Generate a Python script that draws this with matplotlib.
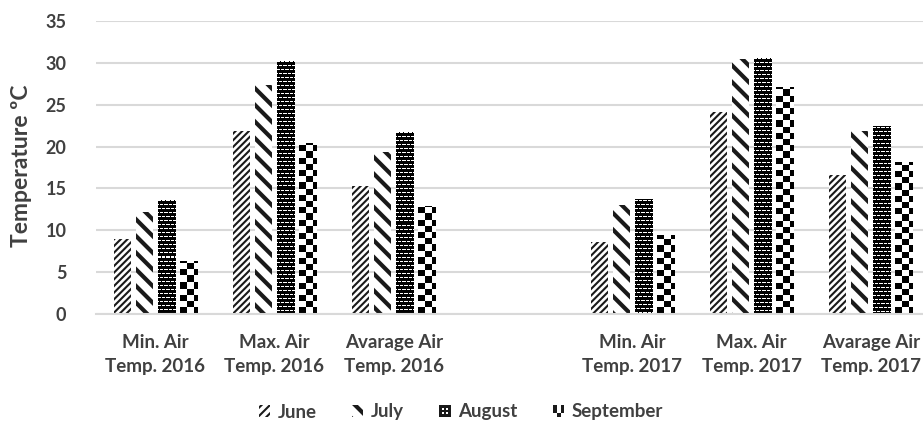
import numpy as np
import matplotlib
matplotlib.use("Agg")
import matplotlib.pyplot as plt
from matplotlib.patches import Rectangle
from matplotlib.legend_handler import HandlerBase

categories = ["Min. Air\nTemp. 2016", "Max. Air\nTemp. 2016", "Avarage Air\nTemp. 2016", "",
              "Min. Air\nTemp. 2017", "Max. Air\nTemp. 2017", "Avarage Air\nTemp. 2017"]
series = ["June", "July", "August", "September"]
june = [9.0, 21.8, 15.3, np.nan, 8.6, 24.1, 16.6]
july = [12.2, 27.3, 19.3, np.nan, 13.0, 30.4, 21.9]
august = [13.6, 30.2, 21.7, np.nan, 13.7, 30.6, 22.4]
september = [6.35, 20.4, 12.9, np.nan, 9.4, 27.1, 18.1]
yticks = [0, 5, 10, 15, 20, 25, 30, 35]

TXT = "#404040"
FONT = "Lato"

fig = plt.figure(figsize=(9.23, 4.26), dpi=100)
ax = fig.add_axes([95.5 / 923, 111.7 / 426, 835 / 923, 293.6 / 426])
ax.set_xlim(-0.5, 6.5)
ax.set_ylim(0, 35)

x = np.arange(len(categories))
step = 0.184
width = 0.143
vals = [june, july, august, september]

bars = []
for i, v in enumerate(vals):
    off = (i - 1.5) * step
    if i == 0:
        b = ax.bar(x + off, v, width, facecolor="white", edgecolor="#1a1a1a",
                   hatch="/" * 5, linewidth=0, zorder=2)
        for p in b:
            if hasattr(p, "set_hatch_linewidth"):
                p.set_hatch_linewidth(1.5)
    elif i == 1:
        b = ax.bar(x + off, v, width, facecolor="white", edgecolor="#1a1a1a",
                   hatch="\\" * 2, linewidth=0, zorder=2)
        for p in b:
            if hasattr(p, "set_hatch_linewidth"):
                p.set_hatch_linewidth(3.0)
    else:
        b = ax.bar(x + off, v, width, facecolor="white", linewidth=0, zorder=2)
    bars.append(b)


def august_tex(hpx, wpx):
    t = np.zeros((hpx, wpx))
    for r in range(hpx):
        if r % 4 == 1:
            shift = 0 if (r // 4) % 2 == 0 else 2
            for c in range(wpx):
                if (c + shift) % 4 in (0, 1, 2):
                    t[r, c] = 1.0
    return t


def checker_tex(hpx, wpx, cell=6.2):
    rr = (np.arange(hpx)[:, None] / cell).astype(int)
    cc = (np.arange(wpx)[None, :] / cell).astype(int)
    return ((rr + cc) % 2).astype(float)


fig.canvas.draw()
for i, texfun in ((2, august_tex), (3, checker_tex)):
    for p in bars[i]:
        h = p.get_height()
        if not np.isfinite(h) or h <= 0:
            continue
        x0 = p.get_x()
        x1 = x0 + p.get_width()
        (px0, py0), (px1, py1) = ax.transData.transform([(x0, 0), (x1, h)])
        wpx = max(1, int(round(px1 - px0)))
        hpx = max(1, int(round(py1 - py0)))
        tex = texfun(hpx, wpx)
        if i == 3:
            tex = tex[::-1]
        im = ax.imshow(tex, extent=(x0, x1, 0, h), origin="upper", aspect="auto",
                       cmap="gray", vmin=0, vmax=1, interpolation="nearest", zorder=2.5)
        im.set_clip_path(p)

ax.set_xlim(-0.5, 6.5)
ax.set_ylim(0, 35)
ax.set_aspect("auto")

ax.set_yticks(yticks)
ax.set_yticklabels([str(t) for t in yticks], fontsize=13, fontweight="bold",
                   color=TXT, family=FONT)
ax.set_xticks(x)
ax.set_xticklabels(categories, fontsize=13.5, fontweight="bold", color=TXT,
                   family=FONT, linespacing=1.5)
ax.tick_params(axis="both", length=0)
ax.tick_params(axis="x", pad=14)
ax.tick_params(axis="y", pad=21)
ax.grid(axis="y", color="#d9d9d9", linewidth=1.5, zorder=0)
ax.set_axisbelow(True)
for s in ("top", "right", "left"):
    ax.spines[s].set_visible(False)
ax.spines["bottom"].set_color("#d9d9d9")
ax.spines["bottom"].set_linewidth(1.5)

fig.text(22 / 923, 1 - 166 / 426, "Temperature ºC", rotation=90, ha="center", va="center",
         fontsize=16.5, fontweight="bold", color=TXT, family=FONT)


class CellHandler(HandlerBase):
    def __init__(self, arr, **kw):
        super().__init__(**kw)
        self.arr = np.asarray(arr)

    def create_artists(self, legend, orig_handle, xdescent, ydescent, width, height,
                       fontsize, trans):
        n, m = self.arr.shape
        s = min(width, height)
        x0 = -xdescent + (width - s) / 2
        y0 = -ydescent + (height - s) / 2
        arts = [Rectangle((x0, y0), s, s, facecolor="white", edgecolor="none", transform=trans)]
        for r in range(n):
            for c in range(m):
                if self.arr[r, c]:
                    arts.append(Rectangle((x0 + c * s / m, y0 + (n - 1 - r) * s / n),
                                          s / m, s / n, facecolor="#1a1a1a",
                                          edgecolor="none", transform=trans))
        return arts


class HatchHandler(HandlerBase):
    def __init__(self, hatch, lw, **kw):
        super().__init__(**kw)
        self.hatch = hatch
        self.lw = lw

    def create_artists(self, legend, orig_handle, xdescent, ydescent, width, height,
                       fontsize, trans):
        s = min(width, height)
        x0 = -xdescent + (width - s) / 2
        y0 = -ydescent + (height - s) / 2
        r = Rectangle((x0, y0), s, s, facecolor="white", edgecolor="#1a1a1a",
                      hatch=self.hatch, linewidth=0, transform=trans)
        if hasattr(r, "set_hatch_linewidth"):
            r.set_hatch_linewidth(self.lw)
        return [r]


h_objs = [bars[0][0], bars[1][0], bars[2][0], bars[3][0]]
handler_map = {
    bars[0][0]: HatchHandler("/" * 4, 1.5),
    bars[1][0]: HatchHandler("\\" * 2, 3.0),
    bars[2][0]: CellHandler([[1, 1, 1, 1, 1], [1, 0, 1, 0, 1], [1, 1, 1, 1, 1],
                             [1, 0, 1, 0, 1], [1, 1, 1, 1, 1]]),
    bars[3][0]: CellHandler([[1, 0, 1], [1, 0, 1], [0, 1, 0]]),
}
leg = fig.legend(h_objs, series, loc="center", bbox_to_anchor=(461 / 923, 1 - 412 / 426),
                 ncol=4, frameon=False, handler_map=handler_map, handlelength=0.6,
                 handleheight=0.6, handletextpad=0.4, columnspacing=1.9,
                 prop={"family": FONT, "weight": "bold", "size": 13.5})
for t in leg.get_texts():
    t.set_color(TXT)

fig.savefig("out.png", dpi=100)
